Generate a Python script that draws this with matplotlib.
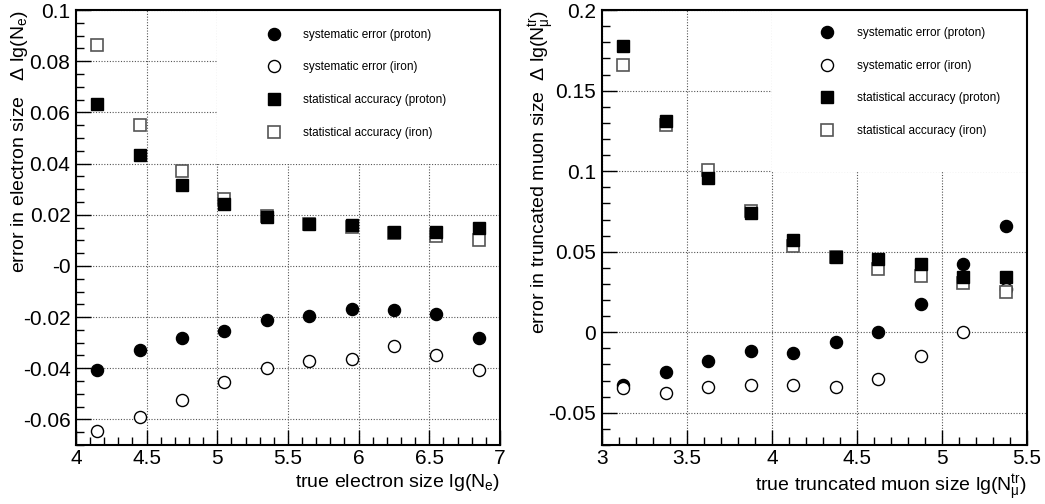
import matplotlib
matplotlib.use("Agg")
import matplotlib.pyplot as plt
from matplotlib.patches import Rectangle
from matplotlib.ticker import MultipleLocator, FuncFormatter

plt.rcParams['font.family'] = ['Liberation Sans', 'DejaVu Sans']
plt.rcParams['mathtext.fontset'] = 'custom'
plt.rcParams['mathtext.rm'] = 'Liberation Sans'
plt.rcParams['mathtext.it'] = 'Liberation Sans'

# electron size panel
ne_x = [4.15, 4.45, 4.75, 5.05, 5.35, 5.65, 5.95, 6.25, 6.55, 6.85]
ne_sys_p = [-0.0405, -0.0330, -0.0283, -0.0255, -0.0213, -0.0194, -0.0170, -0.0172, -0.0186, -0.0281]
ne_sys_fe = [-0.0647, -0.0591, -0.0525, -0.0455, -0.0400, -0.0370, -0.0363, -0.0313, -0.0348, -0.0405]
ne_stat_p = [0.0631, 0.0432, 0.0315, 0.0243, 0.0191, 0.0163, 0.0161, 0.0131, 0.0131, 0.0147]
ne_stat_fe = [0.0865, 0.0550, 0.0371, 0.0261, 0.0196, 0.0163, 0.0153, 0.0127, 0.0116, 0.0100]

# truncated muon size panel
nmu_x = [3.125, 3.375, 3.625, 3.875, 4.125, 4.375, 4.625, 4.875, 5.125, 5.375]
nmu_sys_p = [-0.0329, -0.0245, -0.0179, -0.0117, -0.0127, -0.0062, 0.0000, 0.0175, 0.0424, 0.0658]
nmu_sys_fe = [-0.0349, -0.0374, -0.0340, -0.0325, -0.0327, -0.0341, -0.0288, -0.0148, 0.0000, 0.0268]
nmu_stat_p = [0.1774, 0.1309, 0.0959, 0.0739, 0.0575, 0.0465, 0.0453, 0.0424, 0.0342, 0.0340]
nmu_stat_fe = [0.1660, 0.1287, 0.1006, 0.0755, 0.0533, 0.0470, 0.0391, 0.0352, 0.0305, 0.0253]

labels = ['systematic error (proton)', 'systematic error (iron)',
          'statistical accuracy (proton)', 'statistical accuracy (iron)']


def fmt(v, pos):
    return '%g' % round(v, 6)


def fmt_neg0(v, pos):
    # the original axis prints the zero as "-0"
    if abs(v) < 1e-9:
        return '-0'
    return '%g' % round(v, 6)


def panel(ax, x, sp, sf, tp, tf, xlim, ylim, ymaj, ymin_, xlab, ylab, box, leg_anchor, zero_fmt):
    ax.set_xlim(*xlim)
    ax.set_ylim(*ylim)
    ax.set_axisbelow(True)
    ax.grid(True, which='major', linestyle=(0, (1, 1.5)), color='#555555', linewidth=0.8)
    # white legend area hiding the grid
    ax.add_patch(Rectangle((box[0], box[1]), 1 - box[0], 1 - box[1], transform=ax.transAxes,
                           facecolor='white', edgecolor='none', zorder=1))
    ms = 8.7
    h1, = ax.plot(x, sp, 'o', ms=ms, mfc='black', mec='black', mew=1.0, zorder=3)
    h2, = ax.plot(x, sf, 'o', ms=ms, mfc='white', mec='black', mew=1.0, zorder=3)
    h4, = ax.plot(x, tf, 's', ms=ms, mfc='white', mec='#555555', mew=1.2, zorder=3)
    h3, = ax.plot(x, tp, 's', ms=ms, mfc='black', mec='black', mew=1.0, zorder=3)
    ax.legend([h1, h2, h3, h4], labels, loc='upper left', bbox_to_anchor=leg_anchor,
              frameon=False, fontsize=8.5, handlelength=1.0, handletextpad=2.0,
              labelspacing=1.75, borderpad=0, borderaxespad=0, numpoints=1)
    ax.xaxis.set_major_locator(MultipleLocator(0.5))
    ax.xaxis.set_minor_locator(MultipleLocator(0.1))
    ax.yaxis.set_major_locator(MultipleLocator(ymaj))
    ax.yaxis.set_minor_locator(MultipleLocator(ymin_))
    ax.xaxis.set_major_formatter(FuncFormatter(fmt))
    ax.yaxis.set_major_formatter(FuncFormatter(zero_fmt))
    ax.tick_params(which='both', direction='in', top=False, right=False, labelsize=15, width=1.0)
    ax.tick_params(which='major', length=11)
    ax.tick_params(which='minor', length=5.5)
    ax.tick_params(axis='x', pad=3)
    ax.tick_params(axis='y', pad=4)
    for s in ax.spines.values():
        s.set_linewidth(1.5)
    ax.set_xlabel(xlab, fontsize=14, loc='right')
    ax.xaxis.set_label_coords(1.0, -0.062)
    ax.set_ylabel(ylab, fontsize=14, loc='top')


fig = plt.figure(figsize=(10.45, 5.04), dpi=100)
ax1 = fig.add_axes([0.0727, 0.117, 0.4057, 0.863])
ax2 = fig.add_axes([0.576, 0.117, 0.4067, 0.863])

panel(ax1, ne_x, ne_sys_p, ne_sys_fe, ne_stat_p, ne_stat_fe, (4, 7), (-0.07, 0.1), 0.02, 0.005,
      r'true electron size lg(N$_{\rm e}$)',
      r'error in electron size   $\Delta$ lg(N$_{\rm e}$)',
      (0.333, 0.646), (0.452, 0.957), fmt_neg0)
ax1.yaxis.set_label_coords(-0.108, 1.0)

panel(ax2, nmu_x, nmu_sys_p, nmu_sys_fe, nmu_stat_p, nmu_stat_fe, (3, 5.5), (-0.07, 0.2), 0.05, 0.01,
      r'true truncated muon size lg(N$^{\rm tr}_{\mu}$)',
      r'error in truncated muon size  $\Delta$ lg(N$^{\rm tr}_{\mu}$)',
      (0.4, 0.628), (0.5165, 0.961), fmt)
ax2.yaxis.set_label_coords(-0.108, 1.0)

fig.savefig('out.png', dpi=100)
